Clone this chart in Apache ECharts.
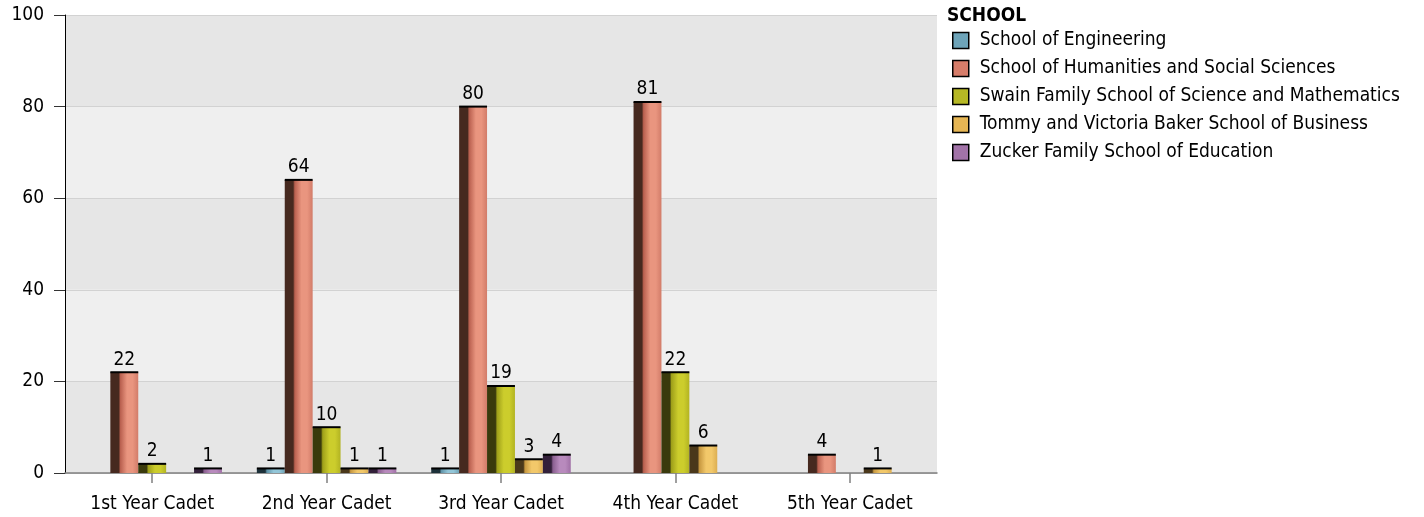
<!DOCTYPE html>
<html><head><meta charset="utf-8">
<script src="https://cdn.jsdelivr.net/npm/echarts@6/dist/echarts.min.js"></script>
<style>html,body{margin:0;padding:0;background:#fff}#c{width:1424px;height:517px}</style>
</head><body><div id="c"></div>
<script>
const categories = ['1st Year Cadet','2nd Year Cadet','3rd Year Cadet','4th Year Cadet','5th Year Cadet'];
const schools = ['School of Engineering','School of Humanities and Social Sciences','Swain Family School of Science and Mathematics','Tommy and Victoria Baker School of Business','Zucker Family School of Education'];
const engineering = [null, 1, 1, null, null];
const humanities = [22, 64, 80, 81, 4];
const swain = [2, 10, 19, 22, null];
const business = [null, 1, 3, 6, 1];
const zucker = [1, 1, 4, null, null];
const yTicks = [0, 20, 40, 60, 80, 100];

const seriesValues = [engineering, humanities, swain, business, zucker];
const palettes = [
  {dark:'#1d313a', mid:'#5f93a8', light:'#93c6d8', edge:'#6fa3b6', icon:'#6ea4b9'},
  {dark:'#46291f', mid:'#b9604f', light:'#e9957f', edge:'#d27c69', icon:'#d77d6a'},
  {dark:'#3a3a0c', mid:'#9fa01a', light:'#cccd2c', edge:'#b2b322', icon:'#b6b825'},
  {dark:'#4a381a', mid:'#c79840', light:'#f2c86a', edge:'#dcae52', icon:'#e6b654'},
  {dark:'#33203a', mid:'#8a5f90', light:'#b88abd', edge:'#a070a6', icon:'#a273a8'}
];
const FONT = '"DejaVu Sans Condensed", "DejaVu Sans", sans-serif';
const FS = 19;

function grad(p){
  return new echarts.graphic.LinearGradient(0,0,1,0,[
    {offset:0, color:p.dark},{offset:0.3, color:p.dark},
    {offset:0.36, color:p.mid},{offset:0.6, color:p.light},
    {offset:0.8, color:p.light},{offset:1, color:p.edge}
  ]);
}

const NS = schools.length;
const series = schools.map((name, si) => {
  const data = [];
  seriesValues[si].forEach((v, ci) => { if (v !== null) data.push([ci, v]); });
  const p = palettes[si];
  return {
    type:'custom', name, data,
    itemStyle:{color:p.icon, borderColor:'#000', borderWidth:1.5},
    encode:{x:0, y:1},
    renderItem(params, api){
      const ci = api.value(0), v = api.value(1);
      const base = api.coord([ci, 0]);
      const top = api.coord([ci, v]);
      const band = api.size([1, 0])[0];
      const bw = band * 0.16;
      const x0 = base[0] + (si - NS/2) * bw;
      const h = base[1] - top[1];
      return {type:'group', children:[
        {type:'rect', shape:{x:x0, y:top[1], width:bw, height:h}, style:{fill:grad(p)}},
        {type:'line', shape:{x1:x0, y1:top[1], x2:x0+bw, y2:top[1]}, style:{stroke:'#000', lineWidth:2}},
        {type:'text', x:x0+bw/2, y:top[1]-3, style:{text:String(v), fill:'#000', font:FS+'px '+FONT, align:'center', verticalAlign:'bottom'}}
      ]};
    }
  };
});

const chart = echarts.init(document.getElementById('c'));
chart.setOption({
  animation:false,
  textStyle:{fontFamily:FONT},
  title:{text:'SCHOOL', left:942, top:2, textStyle:{fontSize:FS, fontWeight:'bold', color:'#000', fontFamily:FONT}},
  legend:{
    orient:'vertical', left:952, top:31, padding:0, itemWidth:16, itemHeight:16, itemGap:9,
    icon:'rect', selectedMode:false,
    textStyle:{fontSize:FS, color:'#000', fontFamily:FONT, padding:[0,0,0,6]},
    data: schools.map((s,i)=>({name:s, itemStyle:{color:palettes[i].icon, borderColor:'#000', borderWidth:1.5}}))
  },
  grid:{left:65, right:487, top:15, bottom:44},
  xAxis:{
    type:'category', data:categories, boundaryGap:true,
    axisLine:{lineStyle:{color:'#808080', width:1.5}},
    axisTick:{show:true, alignWithLabel:true, length:10, lineStyle:{color:'#808080', width:1.5}},
    axisLabel:{fontSize:FS, color:'#000', margin:22, interval:0, fontFamily:FONT},
    splitLine:{show:false}
  },
  yAxis:{
    type:'value', min:0, max:100, interval:20,
    axisLine:{show:true, lineStyle:{color:'#000', width:1}},
    axisTick:{show:true, length:11, lineStyle:{color:'#333'}},
    axisLabel:{fontSize:FS, color:'#000', margin:21, fontFamily:FONT,
      formatter:(v)=> yTicks.includes(v) ? String(v) : ''},
    splitLine:{show:true, lineStyle:{color:'#d2d2d2', width:1}},
    splitArea:{show:true, areaStyle:{color:['#e6e6e6','#efefef']}}
  },
  series
});
</script></body></html>
